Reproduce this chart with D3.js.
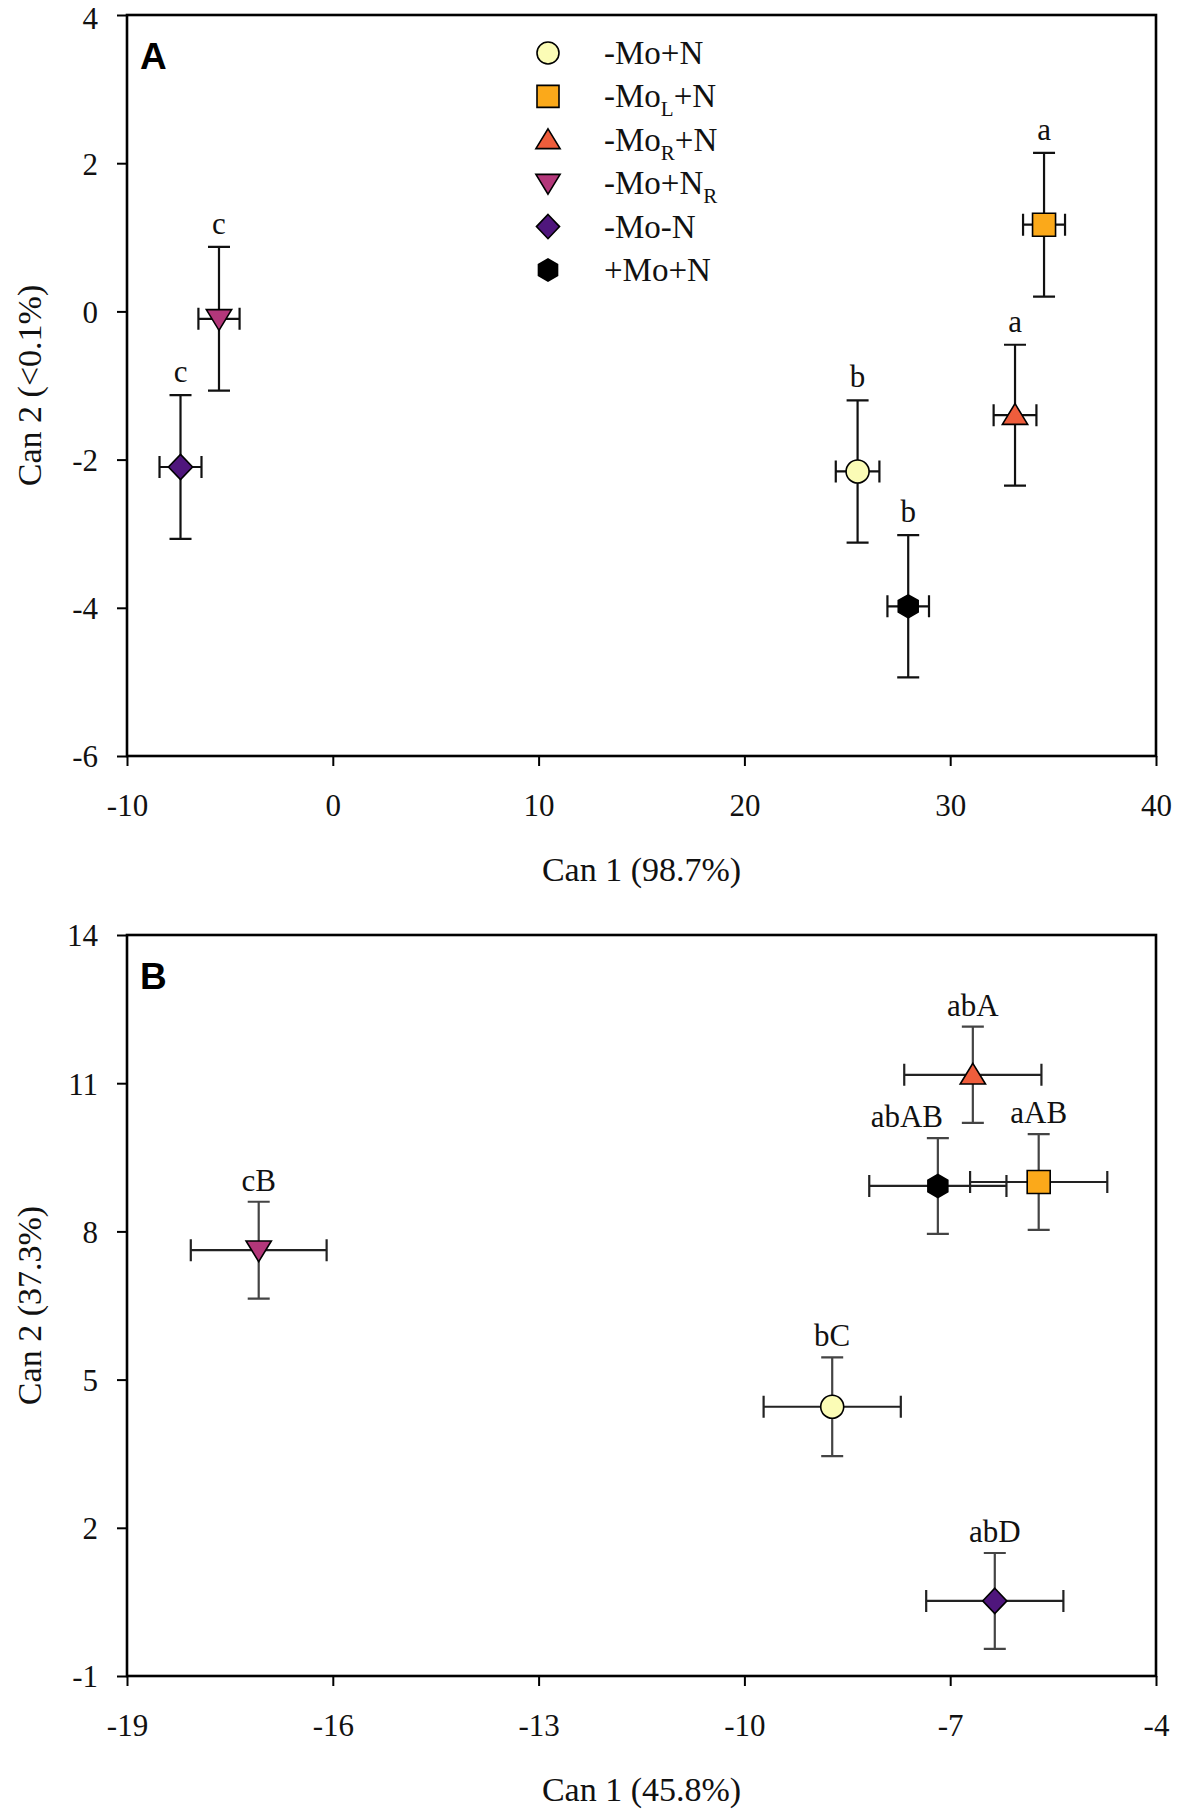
<!DOCTYPE html>
<html>
<head>
<meta charset="utf-8">
<script src="https://cdn.jsdelivr.net/npm/d3@7"></script>
<style>
  body { margin: 0; background: #fff; }
  svg { display: block; }
</style>
</head>
<body>
<div id="chart"></div>
<script>
// treatments, in legend order
var groups = ["-Mo+N", "-MoL+N", "-MoR+N", "-Mo+NR", "-Mo-N", "+Mo+N"];
var shapes = ["circle", "square", "triangle", "triangleDown", "diamond", "hexagon"];
var colors = ["#fbfcb6", "#fba91a", "#ee5d3c", "#b3377a", "#4f167c", "#000000"];

// panel A: canonical scores (mean +/- error)
var can1A = [25.5, 34.56, 33.15, -5.53, -7.4, 27.96];
var can1ErrA = [1.06, 1.02, 1.04, 1.0, 1.02, 1.01];
var can2A = [-2.16, 1.17, -1.40, -0.10, -2.1, -3.98];
var can2ErrA = [0.96, 0.97, 0.95, 0.97, 0.97, 0.96];
var lettersA = ["b", "a", "a", "c", "c", "b"];
var xTicksA = [-10, 0, 10, 20, 30, 40];
var yTicksA = [-6, -4, -2, 0, 2, 4];

// panel B
var can1B = [-8.72, -5.71, -6.67, -17.08, -6.35, -7.18];
var can1ErrB = [1.0, 1.0, 1.0, 0.99, 1.0, 1.0];
var can2B = [4.45, 9.0, 11.17, 7.62, 0.52, 8.92];
var can2ErrB = [1.0, 0.97, 0.975, 0.98, 0.97, 0.97];
var lettersB = ["bC", "aAB", "abA", "cB", "abD", "abAB"];
var xTicksB = [-19, -16, -13, -10, -7, -4];
var yTicksB = [-1, 2, 5, 8, 11, 14];

var serif = "'Liberation Serif', 'Times New Roman', serif";
var W = 1181, H = 1815;
var svg = d3.select("#chart").append("svg")
    .attr("width", W)
    .attr("height", H);

// marker outlines, r = half size in px
function shapePath(type, r) {
    var p;
    if (type === "circle") {
        return "M" + r + ",0A" + r + "," + r + " 0 1,1 " + (-r) + ",0A" + r + "," + r + " 0 1,1 " + r + ",0Z";
    } else if (type === "square") {
        p = [[-r, -r], [r, -r], [r, r], [-r, r]];
    } else if (type === "triangle") {
        p = [[0, -r], [r * 1.1, r * 0.8], [-r * 1.1, r * 0.8]];
    } else if (type === "triangleDown") {
        p = [[0, r], [r * 1.1, -r * 0.8], [-r * 1.1, -r * 0.8]];
    } else if (type === "diamond") {
        p = [[0, -r * 1.1], [r * 1.05, 0], [0, r * 1.1], [-r * 1.05, 0]];
    } else {
        p = d3.range(6).map(function (i) {
            var a = Math.PI / 3 * i;
            return [r * Math.sin(a), -r * Math.cos(a)];
        });
    }
    return "M" + p.map(function (d) { return d.join(","); }).join("L") + "Z";
}

function fmt(d) { return String(d).replace("\u2212", "-"); }

function legendLabel(sel, name) {
    // subscripts: L and R in the treatment names
    var parts;
    if (name === "-MoL+N") parts = [["-Mo", 0], ["L", 1], ["+N", 0]];
    else if (name === "-MoR+N") parts = [["-Mo", 0], ["R", 1], ["+N", 0]];
    else if (name === "-Mo+NR") parts = [["-Mo+N", 0], ["R", 1]];
    else parts = [[name, 0]];
    var shift = 0;
    parts.forEach(function (p) {
        var dy = (p[1] ? 9 : 0) - shift;
        shift += dy;
        sel.append("tspan")
            .attr("dy", dy)
            .attr("font-size", p[1] ? 21 : 33)
            .text(p[0]);
    });
}

function drawPanel(cfg) {
    var margin = {left: 127, top: cfg.top};
    var width = 1029, height = 741;

    var g = svg.append("g")
        .attr("transform", "translate(" + margin.left + "," + margin.top + ")");

    var x = d3.scaleLinear().domain(d3.extent(cfg.xTicks)).range([0, width]);
    var y = d3.scaleLinear().domain(d3.extent(cfg.yTicks)).range([height, 0]);

    var xAxis = g.append("g")
        .attr("transform", "translate(0," + height + ")")
        .call(d3.axisBottom(x).tickValues(cfg.xTicks).tickSize(10).tickSizeOuter(0).tickFormat(fmt));
    xAxis.select(".domain").remove();
    xAxis.selectAll("line").attr("stroke", "#000").attr("stroke-width", 2);
    xAxis.selectAll("text")
        .attr("y", 60).attr("dy", 0)
        .attr("font-family", serif).attr("font-size", 31).attr("fill", "#111");

    var yMax = d3.max(cfg.yTicks);
    var yAxis = g.append("g")
        .call(d3.axisLeft(y).tickValues(cfg.yTicks).tickSize(10).tickSizeOuter(0).tickPadding(19).tickFormat(fmt));
    yAxis.select(".domain").remove();
    yAxis.selectAll("line").attr("stroke", "#000").attr("stroke-width", 2);
    yAxis.selectAll("text")
        // keep the top label inside the page
        .attr("dy", function (d) { return d === yMax && cfg.top < 30 ? "0.42em" : "0.35em"; })
        .attr("font-family", serif).attr("font-size", 31).attr("fill", "#111");

    // frame
    g.append("rect")
        .attr("width", width).attr("height", height)
        .attr("fill", "none").attr("stroke", "#000").attr("stroke-width", 2.6);

    // axis titles
    g.append("text")
        .attr("x", width / 2).attr("y", height + 125)
        .attr("text-anchor", "middle")
        .attr("font-family", serif).attr("font-size", 34).attr("fill", "#111")
        .text(cfg.xTitle);
    g.append("text")
        .attr("transform", "translate(" + (41 - margin.left) + "," + (height / 2) + ") rotate(-90)")
        .attr("text-anchor", "middle")
        .attr("font-family", serif).attr("font-size", 34).attr("fill", "#111")
        .text(cfg.yTitle);

    // panel letter
    g.append("text")
        .attr("x", 13).attr("y", 54)
        .attr("font-family", "'Liberation Sans', Arial, sans-serif")
        .attr("font-weight", "bold").attr("font-size", 37)
        .text(cfg.letter);

    var data = groups.map(function (name, i) {
        return {
            name: name, shape: shapes[i], color: colors[i],
            cx: cfg.cx[i], ex: cfg.ex[i], cy: cfg.cy[i], ey: cfg.ey[i], label: cfg.labels[i]
        };
    });

    var pts = g.selectAll(".pt").data(data).enter().append("g").attr("class", "pt");
    var cap = 11;

    // horizontal error bars
    pts.append("path")
        .attr("fill", "none").attr("stroke", cfg.hBarColor).attr("stroke-width", 2.2)
        .attr("d", function (d) {
            var x0 = x(d.cx - d.ex), x1 = x(d.cx + d.ex), yy = y(d.cy);
            return "M" + x0 + "," + yy + "H" + x1 +
                "M" + x0 + "," + (yy - cap) + "V" + (yy + cap) +
                "M" + x1 + "," + (yy - cap) + "V" + (yy + cap);
        });
    // vertical error bars
    pts.append("path")
        .attr("fill", "none").attr("stroke", cfg.vBarColor).attr("stroke-width", 2.2)
        .attr("d", function (d) {
            var y0 = y(d.cy + d.ey), y1 = y(d.cy - d.ey), xx = x(d.cx);
            return "M" + xx + "," + y0 + "V" + y1 +
                "M" + (xx - cap) + "," + y0 + "H" + (xx + cap) +
                "M" + (xx - cap) + "," + y1 + "H" + (xx + cap);
        });
    // markers
    pts.append("path")
        .attr("transform", function (d) { return "translate(" + x(d.cx) + "," + y(d.cy) + ")"; })
        .attr("d", function (d) { return shapePath(d.shape, 11.5); })
        .attr("fill", function (d) { return d.color; })
        .attr("stroke", "#000").attr("stroke-width", 1.6);
    // group letters
    pts.append("text")
        .attr("x", function (d) { return x(d.cx) + (cfg.labelShift[d.label] || 0); })
        .attr("y", function (d) { return y(d.cy + d.ey) - cfg.labelGap; })
        .attr("text-anchor", "middle")
        .attr("font-family", serif).attr("font-size", 31).attr("fill", "#111")
        .text(function (d) { return d.label; });

    if (cfg.legend) {
        var lg = g.append("g").attr("transform", "translate(421,38)");
        var rows = lg.selectAll("g").data(data).enter().append("g")
            .attr("transform", function (d, i) { return "translate(0," + (i * 43.4) + ")"; });
        rows.append("path")
            .attr("d", function (d) { return shapePath(d.shape, 11); })
            .attr("fill", function (d) { return d.color; })
            .attr("stroke", "#000").attr("stroke-width", 1.6);
        rows.append("text")
            .attr("x", 56).attr("y", 11)
            .attr("font-family", serif).attr("font-size", 33).attr("fill", "#111")
            .each(function (d) { legendLabel(d3.select(this), d.name); });
    }
}

drawPanel({
    top: 15, letter: "A",
    xTicks: xTicksA, yTicks: yTicksA,
    cx: can1A, ex: can1ErrA, cy: can2A, ey: can2ErrA, labels: lettersA,
    xTitle: "Can 1 (98.7%)", yTitle: "Can 2 (<0.1%)",
    hBarColor: "#111", vBarColor: "#111", labelGap: 13, labelShift: {},
    legend: true
});

drawPanel({
    top: 935, letter: "B",
    xTicks: xTicksB, yTicks: yTicksB,
    cx: can1B, ex: can1ErrB, cy: can2B, ey: can2ErrB, labels: lettersB,
    xTitle: "Can 1 (45.8%)", yTitle: "Can 2 (37.3%)",
    hBarColor: "#222", vBarColor: "#444", labelGap: 11, labelShift: {"abAB": -31},
    legend: false
});
</script>
</body>
</html>
